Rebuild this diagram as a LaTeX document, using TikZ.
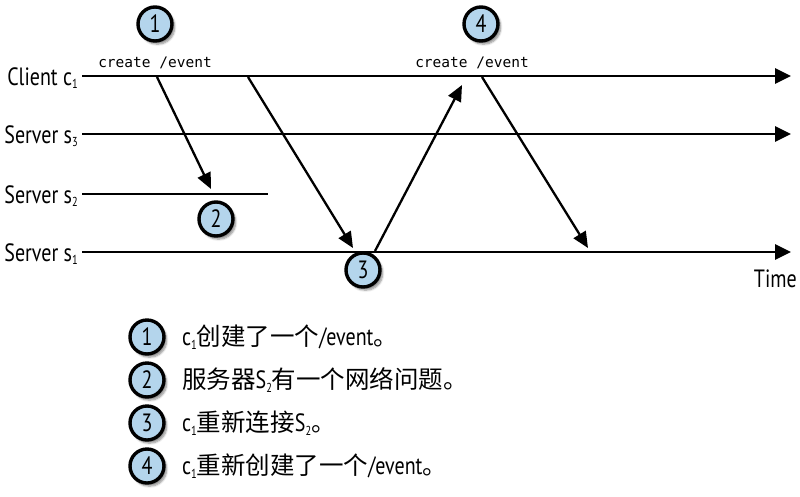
\documentclass[tikz,border=0pt]{standalone}
\usepackage{fontspec}
\setmainfont[FakeStretch=0.8]{PT Sans}
\newfontfamily\cjk{Noto Sans CJK SC}
\newfontfamily\monof{DejaVu Sans Mono}
\usetikzlibrary{arrows.meta,shadows.blur}
\definecolor{numblue}{HTML}{B4D5EC}
\newcommand{\mysub}[1]{\raisebox{-0.3ex}{\fontsize{13}{13}\selectfont #1}}
\newcommand{\cj}[1]{{\cjk\fontsize{24.5}{24.5}\selectfont #1}}
\begin{document}
\begin{tikzpicture}[x=1pt,y=-1pt,
  timeline/.style={line width=2.7pt},
  tarrow/.style={timeline,-{Triangle[length=16pt,width=15pt]}},
  msg/.style={line width=2.3pt,-{Triangle[length=16pt,width=14pt]}},
  num/.style={circle,draw=black,line width=3.4pt,fill=numblue,minimum size=34pt,inner sep=0pt,
    font=\fontsize{25}{25}\selectfont,
    blur shadow={shadow xshift=2.5pt,shadow yshift=-3pt,shadow opacity=45,shadow blur steps=6,shadow blur extra rounding=1.5pt}},
  lbl/.style={anchor=base east,inner sep=0pt,font=\fontsize{25}{25}\selectfont},
  code/.style={anchor=base,inner sep=0pt,font=\monof\fontsize{14.5}{14.5}\selectfont},
  legend/.style={anchor=west,inner sep=0pt,font=\fontsize{25}{25}\selectfont}]
\useasboundingbox (0,0) rectangle (800,496);
% timelines
\coordinate (c0) at (82,76);  \coordinate (c1) at (791,76);
\coordinate (t0) at (82,134); \coordinate (t1) at (791,134);
\coordinate (u0) at (82,194); \coordinate (u1) at (268,194);
\coordinate (v0) at (82,252); \coordinate (v1) at (791,252);
\draw[tarrow] (c0) -- (c1);
\draw[tarrow] (t0) -- (t1);
\draw[timeline] (u0) -- (u1);
\draw[tarrow] (v0) -- (v1);
\node[lbl] (lc) at (78,85) {Client c\mysub{1}};
\node[lbl] (ls3) at (78,143) {Server s\mysub{3}};
\node[lbl] (ls2) at (78,203) {Server s\mysub{2}};
\node[lbl] (ls1) at (78,261) {Server s\mysub{1}};
\node[anchor=base east,inner sep=0pt,font=\fontsize{25}{25}\selectfont] (time) at (797,287) {Time};
% code labels
\node[code] (cr1) at (155,67) {create /event};
\node[code] (cr4) at (472,67) {create /event};
% messages
\coordinate (a1s) at (157,77);  \coordinate (a1e) at (211,189);
\coordinate (a2s) at (248,77);  \coordinate (a2e) at (353,248);
\coordinate (a3s) at (375,251); \coordinate (a3e) at (462,85);
\coordinate (a4s) at (482,77);  \coordinate (a4e) at (588,248);
\draw[msg] (a1s) -- (a1e);
\draw[msg] (a2s) -- (a2e);
\draw[msg] (a3s) -- (a3e);
\draw[msg] (a4s) -- (a4e);
% numbered circles
\node[num] (n1) at (155,24) {1};
\node[num] (n4) at (481,24) {4};
\node[num] (n2) at (216,219) {2};
\node[num] (n3) at (363,270) {3};
% legend
\node[num] (k1) at (147,337) {1};
\node[num] (k2) at (147,380) {2};
\node[num] (k3) at (147,423) {3};
\node[num] (k4) at (147,466) {4};
\node[legend] (t1x) at (182,337) {c\mysub{1}\cj{创建了一个}/event\cj{。}};
\node[legend] (t2x) at (182,380) {\cj{服务器}S\mysub{2}\cj{有一个网络问题。}};
\node[legend] (t3x) at (182,423) {c\mysub{1}\cj{重新连接}S\mysub{2}\cj{。}};
\node[legend] (t4x) at (182,466) {c\mysub{1}\cj{重新创建了一个}/event\cj{。}};
\end{tikzpicture}
\end{document}
